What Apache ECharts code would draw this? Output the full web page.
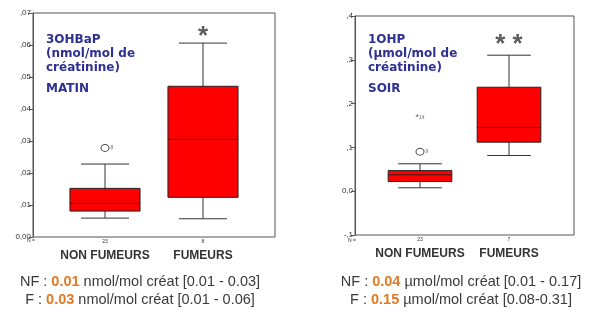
<!DOCTYPE html>
<html>
<head>
<meta charset="utf-8">
<script src="https://cdn.jsdelivr.net/npm/echarts@6/dist/echarts.min.js"></script>
<style>
	html, body { margin: 0; padding: 0; background: #fff; }
	#main { width: 589px; height: 315px; }
</style>
</head>
<body>
<div id="main"></div>
<script>
// groups
var categories = ['NON FUMEURS', 'FUMEURS'];
var countsMatin = [23, 8];
var countsSoir = [23, 7];

// [min, Q1, median, Q3, max]
var matinBoxes = [
	[0.0059, 0.0081, 0.0105, 0.0152, 0.0228],
	[0.0057, 0.0124, 0.0305, 0.0471, 0.0606]
];
var soirBoxes = [
	[0.0078, 0.0220, 0.0374, 0.0470, 0.0626],
	[0.0815, 0.1120, 0.1454, 0.2374, 0.3105]
];

// outliers: [group, value, case number]
var matinOutliers = [[0, 0.0278, '8']];
var soirOutliers = [[0, 0.0900, '9']];
var soirExtremes = [[0, 0.1676, '14']];

// significance marks
var matinSignif = [[1, 0.0626, '*']];
var soirSignif = [[1, 0.3340, '* *']];

var matinTitle = ['3OHBaP', '(nmol/mol de', 'créatinine)', 'MATIN'];
var soirTitle = ['1OHP', '(µmol/mol de', 'créatinine)', 'SOIR'];

var summaryLeft = [
	['NF : ', '0.01', ' nmol/mol créat [0.01 - 0.03]'],
	['F : ', '0.03', ' nmol/mol créat [0.01 - 0.06]']
];
var summaryRight = [
	['NF : ', '0.04', ' µmol/mol créat [0.01 - 0.17]'],
	['F : ', '0.15', ' µmol/mol créat [0.08-0.31]']
];

var NAVY = '#2e3092';
var TXT = '#333';

let toBoxData = boxes => boxes.map((b, i) => [i].concat(b));

let renderBox = (params, api) => {
	var x = api.value(0);
	var lo = api.coord([x, api.value(1)]);
	var q1 = api.coord([x, api.value(2)]);
	var md = api.coord([x, api.value(3)]);
	var q3 = api.coord([x, api.value(4)]);
	var hi = api.coord([x, api.value(5)]);
	var band = api.size([1, 0])[0];
	var bw = band * 0.715 / 2, cw = band * 0.49 / 2;
	var cx = lo[0];
	var lineStyle = { stroke: '#333', lineWidth: 1 };
	return {
		type: 'group',
		children: [
			{ type: 'line', shape: { x1: cx, y1: q3[1], x2: cx, y2: hi[1] }, style: lineStyle },
			{ type: 'line', shape: { x1: cx, y1: q1[1], x2: cx, y2: lo[1] }, style: lineStyle },
			{ type: 'line', shape: { x1: cx - cw, y1: hi[1], x2: cx + cw, y2: hi[1] }, style: lineStyle },
			{ type: 'line', shape: { x1: cx - cw, y1: lo[1], x2: cx + cw, y2: lo[1] }, style: lineStyle },
			{ type: 'rect', shape: { x: cx - bw, y: q3[1], width: bw * 2, height: q1[1] - q3[1] },
				style: { fill: '#ff0000', stroke: '#222', lineWidth: 1 } },
			{ type: 'line', shape: { x1: cx - bw, y1: md[1], x2: cx + bw, y2: md[1] }, style: { stroke: '#222', lineWidth: 1 } }
		]
	};
}

let frameY = (min, max, step, fmt) => ({
	type: 'value', min: min, max: max, interval: step,
	axisLine: { show: true, lineStyle: { color: '#555' } },
	axisTick: { show: true, length: 4, lineStyle: { color: '#555' } },
	axisLabel: { fontSize: 8, color: TXT, margin: 2, fontFamily: 'Liberation Sans', formatter: fmt },
	splitLine: { show: false }
});

let catX = (grid, counts) => ({
	type: 'category', gridIndex: grid, data: categories, boundaryGap: true,
	axisLine: { show: false }, axisTick: { show: false },
	axisLabel: {
		margin: 2,
		interval: 0,
		formatter: (v, i) => '{n|' + counts[i] + '}\n{c|' + v + '}',
		rich: {
			n: { fontSize: 5, lineHeight: 6, color: TXT, fontFamily: 'Liberation Sans' },
			c: { fontSize: 12, lineHeight: 22, fontWeight: 'bold', color: TXT, fontFamily: 'Liberation Sans' }
		}
	}
});

let hiddenY = (grid, min, max) => ({ type: 'value', gridIndex: grid, min: min, max: max, show: false });

let titleText = (x, lines) => [
	{ type: 'text', left: x, top: 33, style: { text: lines.slice(0, 3).join('\n'), fill: NAVY, font: 'bold 12px "DejaVu Sans"', lineHeight: 14 } },
	{ type: 'text', left: x, top: 83, style: { text: lines[3], fill: NAVY, font: 'bold 12px "DejaVu Sans"' } }
];

let summaryText = (cx, rows) => rows.map((r, i) => ({
	type: 'text', x: cx, y: 282 + i * 18,
	style: {
		text: '{a|' + r[0] + '}{b|' + r[1] + '}{a|' + r[2] + '}',
		align: 'center', verticalAlign: 'middle',
		rich: {
			a: { fontSize: 14.5, fill: '#3a3a3a', fontFamily: 'Liberation Sans' },
			b: { fontSize: 14.5, fill: '#e07a24', fontWeight: 'bold', fontFamily: 'Liberation Sans' }
		}
	}
}));

let outlierSeries = (xi, yi, data, star) => ({
	type: 'scatter', xAxisIndex: xi, yAxisIndex: yi, data: data,
	symbol: 'circle', symbolSize: star ? 0.1 : [8, 7],
	itemStyle: { color: '#fff', borderColor: star ? 'transparent' : '#222', borderWidth: 1 },
	label: {
		show: true, position: star ? 'inside' : 'right', distance: 1,
		formatter: p => star ? '{s|*}{n|' + p.value[2] + '}' : p.value[2],
		fontSize: 5, color: '#444',
		rich: { s: { fontSize: 9, color: '#444' }, n: { fontSize: 5, color: '#444' } }
	},
	z: 5
});

let signifSeries = (xi, yi, data) => ({
	type: 'scatter', xAxisIndex: xi, yAxisIndex: yi, data: data,
	symbol: 'circle', symbolSize: 0.1, itemStyle: { color: 'transparent' },
	label: { show: true, position: 'inside', formatter: p => p.value[2], fontSize: 26, fontWeight: 'bold', color: '#333', fontFamily: 'Liberation Sans' },
	z: 5
});

var chart = echarts.init(document.getElementById('main'));
var option = {
	animation: false,
	grid: [
		{ left: 33, top: 13, width: 242, height: 224, show: true, borderColor: '#555', borderWidth: 1 },
		{ left: 56, top: 13, width: 196, height: 224 },
		{ left: 355, top: 16, width: 219, height: 219, show: true, borderColor: '#555', borderWidth: 1 },
		{ left: 375.5, top: 16, width: 178, height: 219 }
	],
	xAxis: [
		{ type: 'value', gridIndex: 0, show: false, min: 0, max: 1 },
		catX(1, countsMatin),
		{ type: 'value', gridIndex: 2, show: false, min: 0, max: 1 },
		catX(3, countsSoir)
	],
	yAxis: [
		Object.assign(frameY(0, 0.07, 0.01, v => v === 0 ? '0,00' : v.toFixed(2).slice(1).replace('.', ',')), { gridIndex: 0 }),
		hiddenY(1, 0, 0.07),
		Object.assign(frameY(-0.1, 0.4, 0.1, v => {
			var r = Math.round(v * 10);
			if (r === 0) return '0,0';
			return (r < 0 ? '-' : '') + ',' + Math.abs(r);
		}), { gridIndex: 2 }),
		hiddenY(3, -0.1, 0.4)
	],
	graphic: [].concat(
		titleText(46, matinTitle),
		titleText(368, soirTitle),
		[
			{ type: 'text', left: 27, top: 238, style: { text: 'N =', font: '5px "Liberation Sans"', fill: TXT } },
			{ type: 'text', left: 348, top: 238, style: { text: 'N =', font: '5px "Liberation Sans"', fill: TXT } }
		],
		summaryText(140, summaryLeft),
		summaryText(461, summaryRight)
	),
	series: [
		{ type: 'custom', xAxisIndex: 1, yAxisIndex: 1, renderItem: renderBox, data: toBoxData(matinBoxes) },
		outlierSeries(1, 1, matinOutliers, false),
		signifSeries(1, 1, matinSignif),
		{ type: 'custom', xAxisIndex: 3, yAxisIndex: 3, renderItem: renderBox, data: toBoxData(soirBoxes) },
		outlierSeries(3, 3, soirOutliers, false),
		outlierSeries(3, 3, soirExtremes, true),
		signifSeries(3, 3, soirSignif)
	]
};
chart.setOption(option);
</script>
</body>
</html>
